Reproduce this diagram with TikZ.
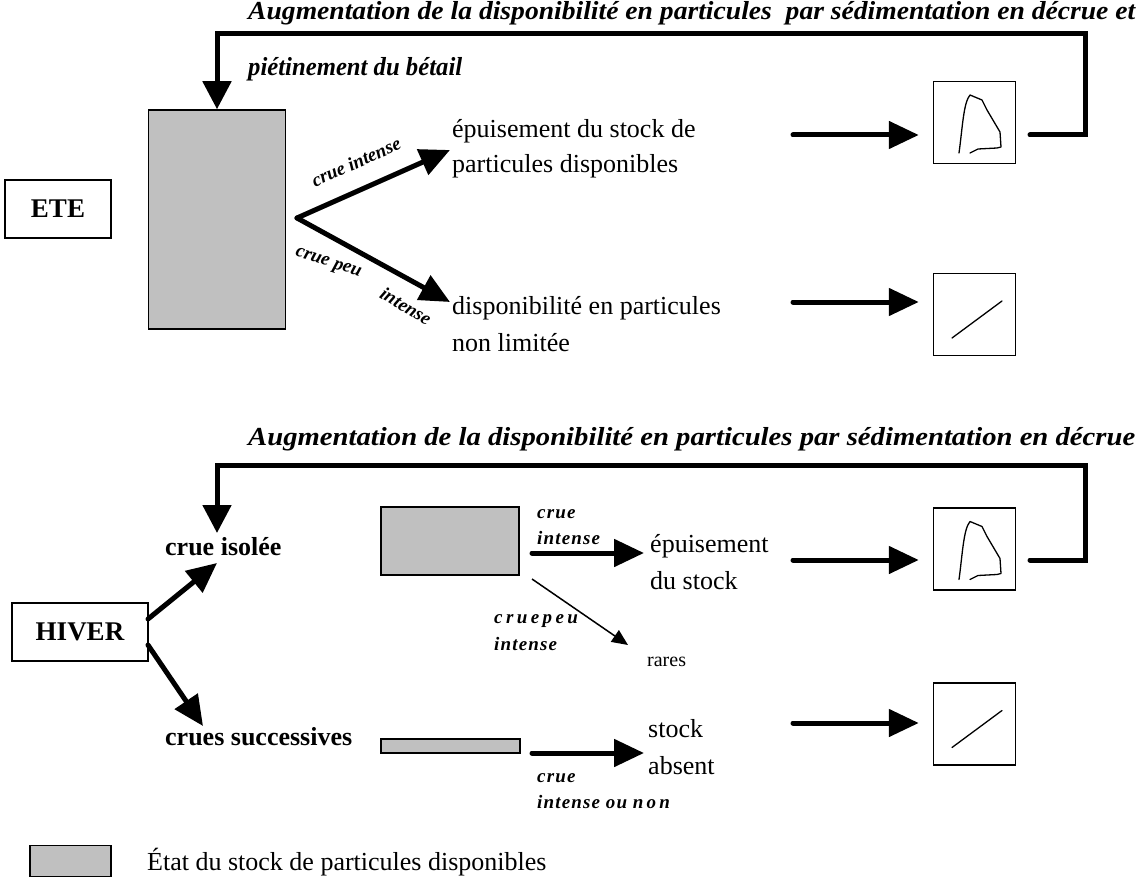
\documentclass[tikz,border=0pt]{standalone}
\usepackage{fontspec}
\usepackage{graphicx}
\setmainfont{Liberation Serif}
\newfontfamily\spacedA[LetterSpace=6]{Liberation Serif}
\newfontfamily\spacedB[LetterSpace=18]{Liberation Serif}
\usetikzlibrary{arrows.meta}
\definecolor{stockgray}{RGB}{192,192,192}
\newcommand\titlefont{\fontsize{26}{30}\selectfont\bfseries\itshape}
\tikzset{
  bigarrow/.style={line width=5pt, line cap=round, -{Triangle[length=30pt,width=27pt]}},
  feedback/.style={line width=5pt, line cap=round, line join=miter, -{Triangle[length=28pt,width=28pt]}},
  thinarrow/.style={line width=1.5pt, -{Triangle[length=16pt,width=14pt]}},
  frame/.style={draw, line width=1.5pt, inner sep=0pt},
  stock/.style={draw, line width=1.5pt, fill=stockgray},
  body/.style={font=\fontsize{26}{30}\selectfont, inner sep=0pt, anchor=base west},
  small/.style={font=\fontsize{20}{24}\selectfont, inner sep=0pt, anchor=base west},
  label/.style={font=\fontsize{26}{30}\selectfont\bfseries, inner sep=0pt, anchor=base west},
  crue/.style={font=\fontsize{19}{21}\selectfont\bfseries\itshape, inner sep=0pt},
  spaced/.style={font=\fontsize{19}{21}\selectfont\spacedA\bfseries\itshape, inner sep=0pt, anchor=base west},
  spacedwide/.style={font=\fontsize{19}{21}\selectfont\spacedB\bfseries\itshape, inner sep=0pt, anchor=base west},
  title/.style={font=\titlefont, inner sep=0pt, anchor=base west},
  glyph/.style={line width=1.3pt, line cap=round, line join=round}
}
\newcommand\hyst[1]{%
  \draw[glyph] ([shift={(-15.5,30.5)}]#1.center) .. controls ([shift={(-12,5)}]#1.center) and ([shift={(-11,-20)}]#1.center) .. ([shift={(-4.5,-27.5)}]#1.center)
  -- ([shift={(7.5,-22.5)}]#1.center) -- ([shift={(12.5,-12.5)}]#1.center) -- ([shift={(25.5,9.5)}]#1.center) -- ([shift={(26.5,24.5)}]#1.center)
  -- ([shift={(22.5,25.5)}]#1.center) -- ([shift={(3.5,26.5)}]#1.center) -- ([shift={(-4.5,30.5)}]#1.center);}
\newcommand\lin[1]{%
  \draw[glyph] ([shift={(-22.5,23.5)}]#1.center) -- ([shift={(27.5,-13.5)}]#1.center);}
\begin{document}
\begin{tikzpicture}[x=1pt,y=-1pt]
\useasboundingbox (0,0) rectangle (1140,877);

% ================= ETE =================
\node[title] (t1) at (248,20) {\resizebox{887pt}{\height}{Augmentation de la disponibilité en particules\ \ par sédimentation en décrue et}};
\node[title] (t2) at (248,76) {\resizebox{214pt}{\height}{piétinement du bétail}};

\node[frame, minimum width=106pt, minimum height=58pt, font=\fontsize{27}{30}\selectfont\bfseries] (ete) at (58,209) {ETE};
\node[stock, minimum width=137pt, minimum height=219pt] (s1) at (217,219.5) {};
\coordinate (br) at (297,218);
\coordinate (up) at (450,150);
\coordinate (dn) at (450,302);
\draw[bigarrow] (br) -- (up);
\draw[bigarrow] (br) -- (dn);
\node[crue, rotate=24] (ci) at (356,162) {crue intense};
\node[crue, rotate=-18] (cp1) at (328,264) {crue peu};
\node[crue, rotate=-31] (cp2) at (406,306) {intense};

\node[body] (e1) at (452,138) {épuisement du stock de};
\node[body] (e2) at (452,173) {particules disponibles};
\node[body] (d1) at (452,314) {disponibilité en particules};
\node[body] (d2) at (452,351) {non limitée};

\node[frame, minimum size=82pt] (g1) at (974.5,122.5) {};
\node[frame, minimum size=82pt] (g2) at (974.5,314.5) {};

\coordinate (a1) at (793,135);
\coordinate (a2) at (793,302);
\draw[bigarrow, shorten >=14pt] (a1) -- (a1 -| g1.west);
\draw[bigarrow, shorten >=14pt] (a2) -- (a2 -| g2.west);
\hyst{g1}
\lin{g2}

% feedback top
\coordinate (f1) at (1030,135);
\coordinate (f1c) at (1085,34);
\draw[feedback] (f1) -- (f1 -| f1c) -- (f1c) -- (f1c -| s1.north) -- (s1.north);

% ================= HIVER =================
\node[title] (t3) at (248,445) {\resizebox{887pt}{\height}{Augmentation de la disponibilité en particules par sédimentation en décrue}};

\node[frame, minimum width=136pt, minimum height=58pt, font=\fontsize{27}{30}\selectfont\bfseries] (hiver) at (80,632) {HIVER};
\node[label] (iso) at (165,555) {crue isolée};
\node[label] (suc) at (165,745) {crues successives};
\coordinate (h1) at (148,619);
\coordinate (h2) at (148,645);
\coordinate (h1e) at (217,563);
\coordinate (h2e) at (203,726);
\draw[bigarrow] (h1) -- (h1e);
\draw[bigarrow] (h2) -- (h2e);

\node[stock, minimum width=138pt, minimum height=68pt] (s2) at (450,541) {};
\node[stock, minimum width=139pt, minimum height=14pt] (s3) at (450.5,746) {};

\coordinate (b1) at (532,553);
\coordinate (b1e) at (644,553);
\draw[bigarrow] (b1) -- (b1e);
\node[spaced] (l1a) at (537,518) {crue};
\node[spaced] (l1b) at (537,544) {intense};

\coordinate (b2) at (532,579);
\coordinate (b2e) at (628,645);
\draw[thinarrow] (b2) -- (b2e);
\node[spacedwide] (l2a) at (494,623) {cruepeu};
\node[spaced] (l2b) at (494,650) {intense};
\node[small] (rares) at (647,666) {rares};

\node[body] (ep1) at (650,552) {épuisement};
\node[body] (ep2) at (650,589) {du stock};

\coordinate (b3) at (532,753);
\coordinate (b3e) at (644,753);
\draw[bigarrow] (b3) -- (b3e);
\node[spaced] (l3a) at (537,782) {crue};
\node[spaced] (l3b) at (537,808) {intense ou n\,o\,n};
\node[body] (sa1) at (648,737) {stock};
\node[body] (sa2) at (648,774) {absent};

\node[frame, minimum size=82pt] (g3) at (974.5,549) {};
\node[frame, minimum size=82pt] (g4) at (974.5,724) {};

\coordinate (a3) at (793,560);
\coordinate (a4) at (793,723);
\draw[bigarrow, shorten >=14pt] (a3) -- (a3 -| g3.west);
\draw[bigarrow, shorten >=14pt] (a4) -- (a4 -| g4.west);
\hyst{g3}
\lin{g4}

\coordinate (f2) at (1030,560);
\coordinate (f2c) at (1085,465);
\coordinate (f2e) at (217,533);
\draw[feedback] (f2) -- (f2 -| f2c) -- (f2c) -- (f2c -| f2e) -- (f2e);

% ================= legend =================
\node[stock, minimum width=81pt, minimum height=31pt] (leg) at (70.5,861) {};
\node[body] (legt) at (147,870) {État du stock de particules disponibles};
\end{tikzpicture}
\end{document}
